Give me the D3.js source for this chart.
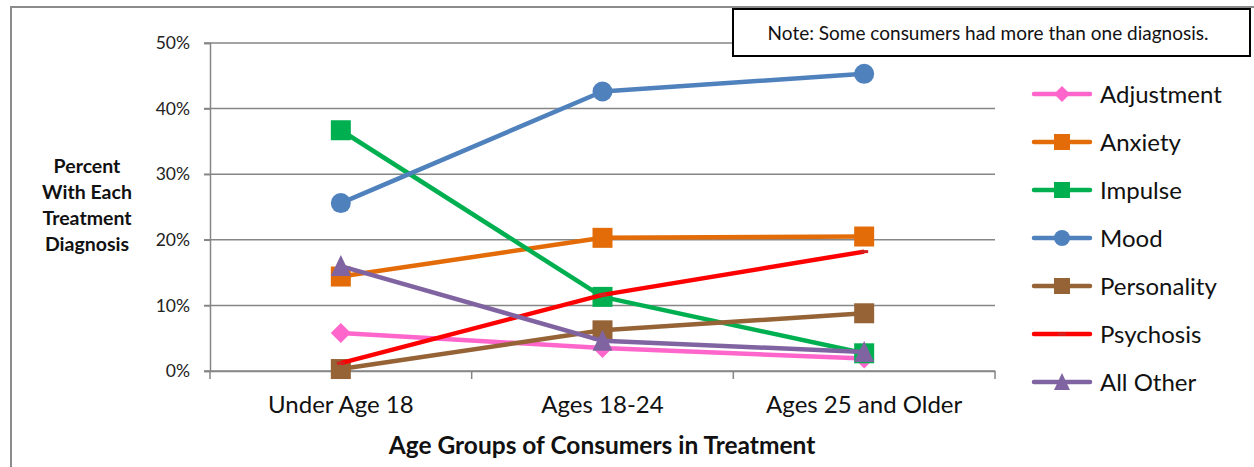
<!DOCTYPE html>
<html>
<head>
<meta charset="utf-8">
<script src="https://cdn.jsdelivr.net/npm/d3@7"></script>
<style>
  body { margin: 0; background: #fff; }
  svg { display: block; font-family: Lato, "Open Sans", sans-serif; }
</style>
</head>
<body>
<script>
/* data */
const categories = ["Under Age 18", "Ages 18-24", "Ages 25 and Older"];
const seriesNames = ["Adjustment", "Anxiety", "Impulse", "Mood", "Personality", "Psychosis", "All Other"];
const adjustment = [5.8, 3.5, 1.9];
const anxiety = [14.4, 20.3, 20.5];
const impulse = [36.7, 11.3, 2.7];
const mood = [25.6, 42.6, 45.3];
const personality = [0.3, 6.2, 8.8];
const psychosis = [1.2, 11.6, 18.2];
const allOther = [16.0, 4.6, 2.9];
const yTicks = [0, 10, 20, 30, 40, 50];
const colors = ["#ff66cc", "#e36c09", "#00b050", "#4f81bd", "#956336", "#ff0000", "#8064a2"];
const markers = ["diamond", "square", "square", "circle", "square", "dash", "triangle"];

const series = [adjustment, anxiety, impulse, mood, personality, psychosis, allOther];

let width = 1254;
let height = 467;

let svg = d3.select("body").append("svg")
  .attr("width", width)
  .attr("height", height);

/* outer frame */
svg.append("path")
  .attr("d", "M11,467 V7 H1254")
  .attr("fill", "none")
  .attr("stroke", "#8c8c8c")
  .attr("stroke-width", 2);

/* scales */
let x = d3.scaleBand()
  .domain(categories)
  .range([210, 995]);
let y = d3.scaleLinear()
  .domain([0, 50])
  .range([371, 43]);

/* gridlines */
svg.append("g")
  .selectAll("line")
  .data(yTicks)
  .join("line")
  .attr("x1", 204)
  .attr("x2", 995)
  .attr("y1", d => y(d))
  .attr("y2", d => y(d))
  .attr("stroke", "#868686")
  .attr("stroke-width", 1.5);

/* y axis */
let axisY = svg.append("g")
  .attr("transform", "translate(210,0)")
  .call(d3.axisLeft(y).tickValues(yTicks).tickFormat(d => d + "%").tickSize(6).tickPadding(14));
axisY.select(".domain").attr("stroke", "#868686").attr("stroke-width", 1.5);
axisY.selectAll(".tick line").attr("stroke", "#868686").attr("stroke-width", 1.5);
axisY.selectAll(".tick text")
  .attr("font-family", "Lato, sans-serif")
  .attr("font-size", 17.5)
  .attr("fill", "#222");

/* x axis */
let axisX = svg.append("g")
  .attr("transform", "translate(0,371)")
  .call(d3.axisBottom(x).tickSize(0).tickPadding(25));
axisX.select(".domain").attr("stroke", "#868686").attr("stroke-width", 1.5);
axisX.selectAll(".tick text")
  .attr("font-family", "Lato, sans-serif")
  .attr("font-size", 24)
  .attr("fill", "#111");

// tick marks between categories
let boundaries = categories.map(c => x(c)).concat([x.range()[1]]);
svg.append("g")
  .selectAll("line")
  .data(boundaries)
  .join("line")
  .attr("x1", d => d)
  .attr("x2", d => d)
  .attr("y1", 371)
  .attr("y2", 379)
  .attr("stroke", "#868686")
  .attr("stroke-width", 1.5);

/* axis titles */
svg.append("text")
  .attr("x", 602)
  .attr("y", 454)
  .attr("text-anchor", "middle")
  .attr("font-size", 24.5)
  .attr("font-weight", "bold")
  .attr("fill", "#111")
  .text("Age Groups of Consumers in Treatment");

let yTitle = ["Percent", "With Each", "Treatment", "Diagnosis"];
svg.append("text")
  .attr("text-anchor", "middle")
  .attr("font-size", 19.5)
  .attr("font-weight", "bold")
  .attr("fill", "#111")
  .selectAll("tspan")
  .data(yTitle)
  .join("tspan")
  .attr("x", 87)
  .attr("y", (d, i) => 173 + i * 26)
  .text(d => d);

/* markers */
function markerPath(type, s) {
  let h = s / 2;
  if (type === "square") return `M${-h},${-h}H${h}V${h}H${-h}Z`;
  if (type === "diamond") return `M0,${-h}L${h},0L0,${h}L${-h},0Z`;
  if (type === "triangle") return `M0,${-h - 1}L${h},${h}L${-h},${h}Z`;
  if (type === "circle") return d3.symbol(d3.symbolCircle, Math.PI * h * h)();
  if (type === "dash") return `M-4,-1.5H4V1.5H-4Z`;
  return "";
}

let line = d3.line()
  .x((d, i) => x(categories[i]) + x.bandwidth() / 2)
  .y(d => y(d));

series.forEach((vals, k) => {
  let g = svg.append("g");
  g.append("path")
    .attr("d", line(vals))
    .attr("fill", "none")
    .attr("stroke", colors[k])
    .attr("stroke-width", 4.5)
    .attr("stroke-linejoin", "round");
  g.selectAll("path.m")
    .data(vals)
    .join("path")
    .attr("class", "m")
    .attr("transform", (d, i) => `translate(${x(categories[i]) + x.bandwidth() / 2},${y(d)})`)
    .attr("d", markerPath(markers[k], 20))
    .attr("fill", markers[k] === "dash" ? "#d42020" : colors[k]);
});

/* legend */
let legend = svg.append("g")
  .selectAll("g")
  .data(seriesNames)
  .join("g")
  .attr("transform", (d, i) => `translate(1034,${94 + i * 48})`);
legend.append("line")
  .attr("x1", 0)
  .attr("x2", 56)
  .attr("stroke", (d, i) => colors[i])
  .attr("stroke-width", 4.5)
  .attr("stroke-linecap", "round");
legend.append("path")
  .attr("transform", "translate(28,0)")
  .attr("d", (d, i) => markerPath(markers[i], 16))
  .attr("fill", (d, i) => markers[i] === "dash" ? "#d42020" : colors[i]);
legend.append("text")
  .attr("x", 66)
  .attr("y", 9)
  .attr("font-size", 24)
  .attr("fill", "#111")
  .text(d => d);

/* note box */
svg.append("rect")
  .attr("x", 733)
  .attr("y", 9)
  .attr("width", 517)
  .attr("height", 47)
  .attr("fill", "#fff")
  .attr("stroke", "#000")
  .attr("stroke-width", 2);
svg.append("text")
  .attr("x", 988)
  .attr("y", 40)
  .attr("text-anchor", "middle")
  .attr("font-size", 19)
  .attr("fill", "#111")
  .text("Note: Some consumers had more than one diagnosis.");
</script>
</body>
</html>
